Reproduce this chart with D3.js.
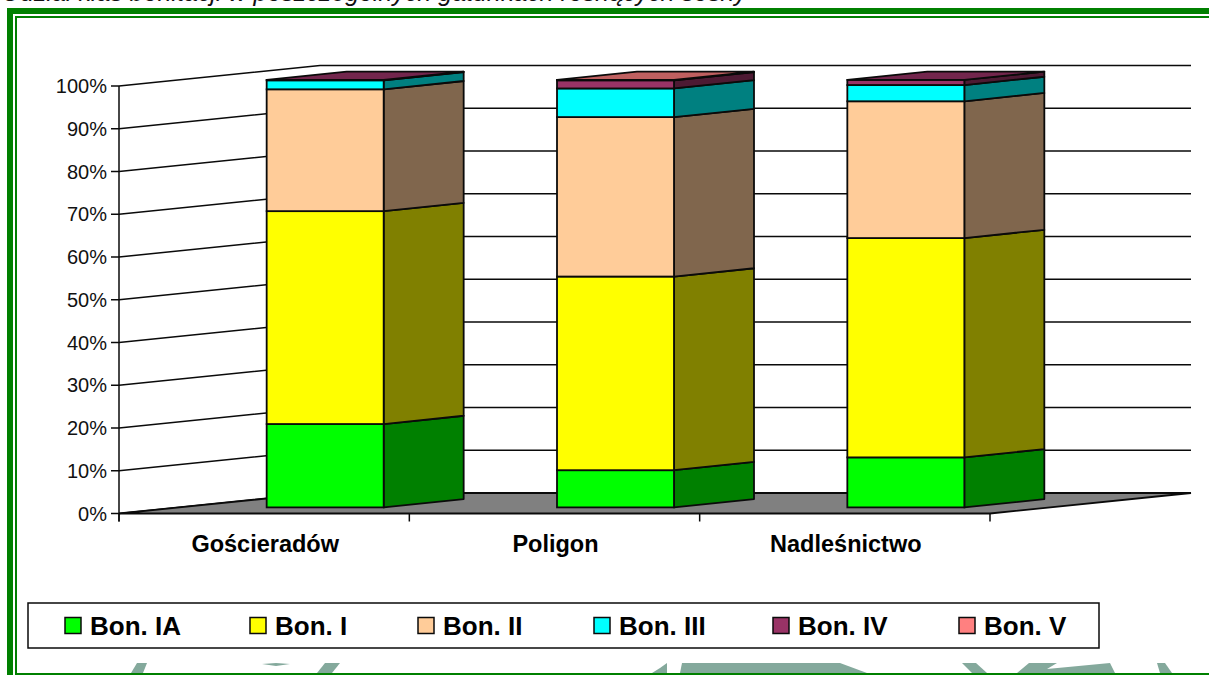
<!DOCTYPE html>
<html>
<head>
<meta charset="utf-8">
<script src="https://cdn.jsdelivr.net/npm/d3@7"></script>
<style>
    html, body { margin: 0; padding: 0; background: #fff; overflow: hidden; }
    svg { display: block; font-family: "Liberation Sans", Arial, sans-serif; }
</style>
</head>
<body>
<div id="chart"></div>
<script>
const categories = ["Gościeradów", "Poligon", "Nadleśnictwo"];
const seriesNames = ["Bon. IA", "Bon. I", "Bon. II", "Bon. III", "Bon. IV", "Bon. V"];

// percent share, one array per series, same order as categories
const bonIA = [19.5, 8.7, 11.7];
const bonI = [49.8, 45.3, 51.3];
const bonII = [28.5, 37.3, 32.0];
const bonIII = [2.1, 6.7, 3.8];
const bonIV = [0.1, 1.9, 1.2];
const bonV = [0, 0.1, 0];

const seriesValues = [bonIA, bonI, bonII, bonIII, bonIV, bonV];
const seriesColors = ["#00ff00", "#ffff00", "#ffcc99", "#00ffff", "#993366", "#ff8080"];
const yTicks = [0, 10, 20, 30, 40, 50, 60, 70, 80, 90, 100];

const width = 1209;
const height = 675;

const svg = d3.select("#chart")
    .append("svg")
    .attr("width", width)
    .attr("height", height);

const lineColor = "#0a0a0a";
const green = "#008000";

// Line of page text cut off by the top edge
svg.append("text")
    .attr("x", 2)
    .attr("y", 1)
    .style("font-size", "25px")
    .style("font-style", "italic")
    .attr("fill", "#111")
    .text("Udział klas bonitacji w poszczególnych gatunkach rosnących sosny");

// Page frame around the chart
svg.append("rect").attr("x", 7).attr("y", 8).attr("width", width).attr("height", 6).attr("fill", green);
svg.append("rect").attr("x", 7).attr("y", 8).attr("width", 6).attr("height", height).attr("fill", green);
svg.append("rect").attr("x", 15).attr("y", 16).attr("width", width).attr("height", 2).attr("fill", green);
svg.append("rect").attr("x", 15).attr("y", 16).attr("width", 2).attr("height", height).attr("fill", green);

// Watermark at the bottom of the page, mostly hidden
const watermark = [
    [[137, 663], [147, 663], [143, 673], [131, 673]],
    [[262, 664], [276, 663], [290, 664], [276, 666]],
    [[325, 663], [340, 663], [332, 673], [317, 673]],
    [[660, 668], [667, 663], [667, 673], [652, 673]],
    [[682, 663], [840, 663], [867, 673], [680, 673]],
    [[962, 663], [976, 663], [987, 673], [972, 673]],
    [[1017, 673], [1029, 663], [1057, 663], [1047, 669], [1110, 663], [1115, 673]],
    [[1157, 663], [1165, 663], [1172, 673], [1160, 673]]
];
svg.selectAll("polygon.mark")
    .data(watermark)
    .enter()
    .append("polygon")
    .attr("class", "mark")
    .attr("points", d => d.join(" "))
    .attr("fill", "#84a99c");

svg.append("rect").attr("x", 15).attr("y", 673).attr("width", width).attr("height", 2).attr("fill", green);

// Scales for the front plane of the 3D box
const x = d3.scaleBand()
    .domain(categories)
    .range([119, 990])
    .paddingInner(0.597)
    .paddingOuter(0.2985);
const xTicks = d3.scaleLinear().domain([0, categories.length]).range([119, 990]);
const y = d3.scaleLinear().domain([0, 100]).range([513.5, 86]);

// 3D offsets
const depthX = 201;
const depthY = -20.5;
const barDepthX = 80;
const barDepthY = -8.3;
const barShiftX = (depthX - barDepthX) / 2 + 0.5;
const barShiftY = (depthY - barDepthY) / 2;

// Wall gridlines
svg.selectAll("polyline.grid")
    .data(yTicks)
    .enter()
    .append("polyline")
    .attr("class", "grid")
    .attr("points", d => [
        [x.range()[0], y(d)],
        [x.range()[0] + depthX, y(d) + depthY],
        [x.range()[1] + depthX, y(d) + depthY]
    ].join(" "))
    .attr("fill", "none")
    .attr("stroke", lineColor)
    .attr("stroke-width", 1.5);

// Floor
svg.append("polygon")
    .attr("points", [
        [x.range()[0], y(0)],
        [x.range()[0] + depthX, y(0) + depthY],
        [x.range()[1] + depthX, y(0) + depthY],
        [x.range()[1], y(0)]
    ].join(" "))
    .attr("fill", "#808080")
    .attr("stroke", lineColor)
    .attr("stroke-width", 1.8);

// Left axis line and ticks
svg.append("line")
    .attr("x1", 119).attr("x2", 119)
    .attr("y1", y(100)).attr("y2", y(0) + 8)
    .attr("stroke", lineColor).attr("stroke-width", 1.5);

svg.selectAll("line.ytick")
    .data(yTicks)
    .enter()
    .append("line")
    .attr("class", "ytick")
    .attr("x1", 111).attr("x2", 119)
    .attr("y1", d => y(d)).attr("y2", d => y(d))
    .attr("stroke", lineColor).attr("stroke-width", 1.5);

svg.selectAll("text.ylabel")
    .data(yTicks)
    .enter()
    .append("text")
    .attr("class", "ylabel")
    .attr("x", 107)
    .attr("y", d => y(d) + 7)
    .attr("text-anchor", "end")
    .style("font-size", "20px")
    .attr("fill", "#111")
    .text(d => d + "%");

svg.selectAll("line.xtick")
    .data(d3.range(categories.length + 1))
    .enter()
    .append("line")
    .attr("class", "xtick")
    .attr("x1", d => xTicks(d)).attr("x2", d => xTicks(d))
    .attr("y1", y(0)).attr("y2", y(0) + 8)
    .attr("stroke", lineColor).attr("stroke-width", 1.5);

svg.selectAll("text.xlabel")
    .data(categories)
    .enter()
    .append("text")
    .attr("class", "xlabel")
    .attr("x", d => x(d) + x.bandwidth() / 2 + 1)
    .attr("y", 552)
    .attr("text-anchor", "middle")
    .style("font-size", "23.5px")
    .style("font-weight", "bold")
    .attr("fill", "#000")
    .text(d => d);

// Stacked bars
const darker = (color, k) => {
    const c = d3.rgb(color);
    return d3.rgb(c.r * k, c.g * k, c.b * k).formatHex();
};

const table = categories.map((c, i) => {
    const row = { category: c };
    seriesNames.forEach((s, j) => { row[s] = seriesValues[j][i]; });
    return row;
});
const stacked = d3.stack().keys(seriesNames)(table);

categories.forEach((c, i) => {
    const left = x(c) + barShiftX;
    const right = left + x.bandwidth();
    const g = svg.append("g").attr("class", "bar");

    stacked.forEach((layer, j) => {
        const y0 = y(layer[i][0]) + barShiftY;
        const y1 = y(layer[i][1]) + barShiftY;
        if (layer[i][1] === layer[i][0]) return;

        // right side of the segment
        g.append("polygon")
            .attr("points", [
                [right, y0],
                [right + barDepthX, y0 + barDepthY],
                [right + barDepthX, y1 + barDepthY],
                [right, y1]
            ].join(" "))
            .attr("fill", darker(seriesColors[j], 0.5))
            .attr("stroke", lineColor)
            .attr("stroke-width", 1.8)
            .attr("stroke-linejoin", "round");

        // front of the segment
        g.append("rect")
            .attr("x", left)
            .attr("y", y1)
            .attr("width", x.bandwidth())
            .attr("height", y0 - y1)
            .attr("fill", seriesColors[j])
            .attr("stroke", lineColor)
            .attr("stroke-width", 1.8);
    });

    // top of the bar takes the colour of the last non-empty series
    const topIndex = d3.max(seriesNames.map((s, j) => seriesValues[j][i] > 0 ? j : -1));
    const yTop = y(100) + barShiftY;
    g.append("polygon")
        .attr("points", [
            [left, yTop],
            [left + barDepthX, yTop + barDepthY],
            [right + barDepthX, yTop + barDepthY],
            [right, yTop]
        ].join(" "))
        .attr("fill", darker(seriesColors[topIndex], 0.75))
        .attr("stroke", lineColor)
        .attr("stroke-width", 1.8)
        .attr("stroke-linejoin", "round");
});

// Legend
svg.append("rect")
    .attr("x", 28).attr("y", 603)
    .attr("width", 1071).attr("height", 45)
    .attr("fill", "#fff")
    .attr("stroke", lineColor)
    .attr("stroke-width", 1.5);

const legendX = d3.scaleOrdinal().domain(seriesNames).range([65, 250, 418, 594, 773, 959]);

svg.selectAll("rect.swatch")
    .data(seriesNames)
    .enter()
    .append("rect")
    .attr("class", "swatch")
    .attr("x", d => legendX(d))
    .attr("y", 617.5)
    .attr("width", 16)
    .attr("height", 16)
    .attr("fill", (d, i) => seriesColors[i])
    .attr("stroke", lineColor)
    .attr("stroke-width", 1.5);

svg.selectAll("text.legend")
    .data(seriesNames)
    .enter()
    .append("text")
    .attr("class", "legend")
    .attr("x", d => legendX(d) + 25)
    .attr("y", 635)
    .style("font-size", "26px")
    .style("font-weight", "bold")
    .attr("fill", "#000")
    .text(d => d);
</script>
</body>
</html>
